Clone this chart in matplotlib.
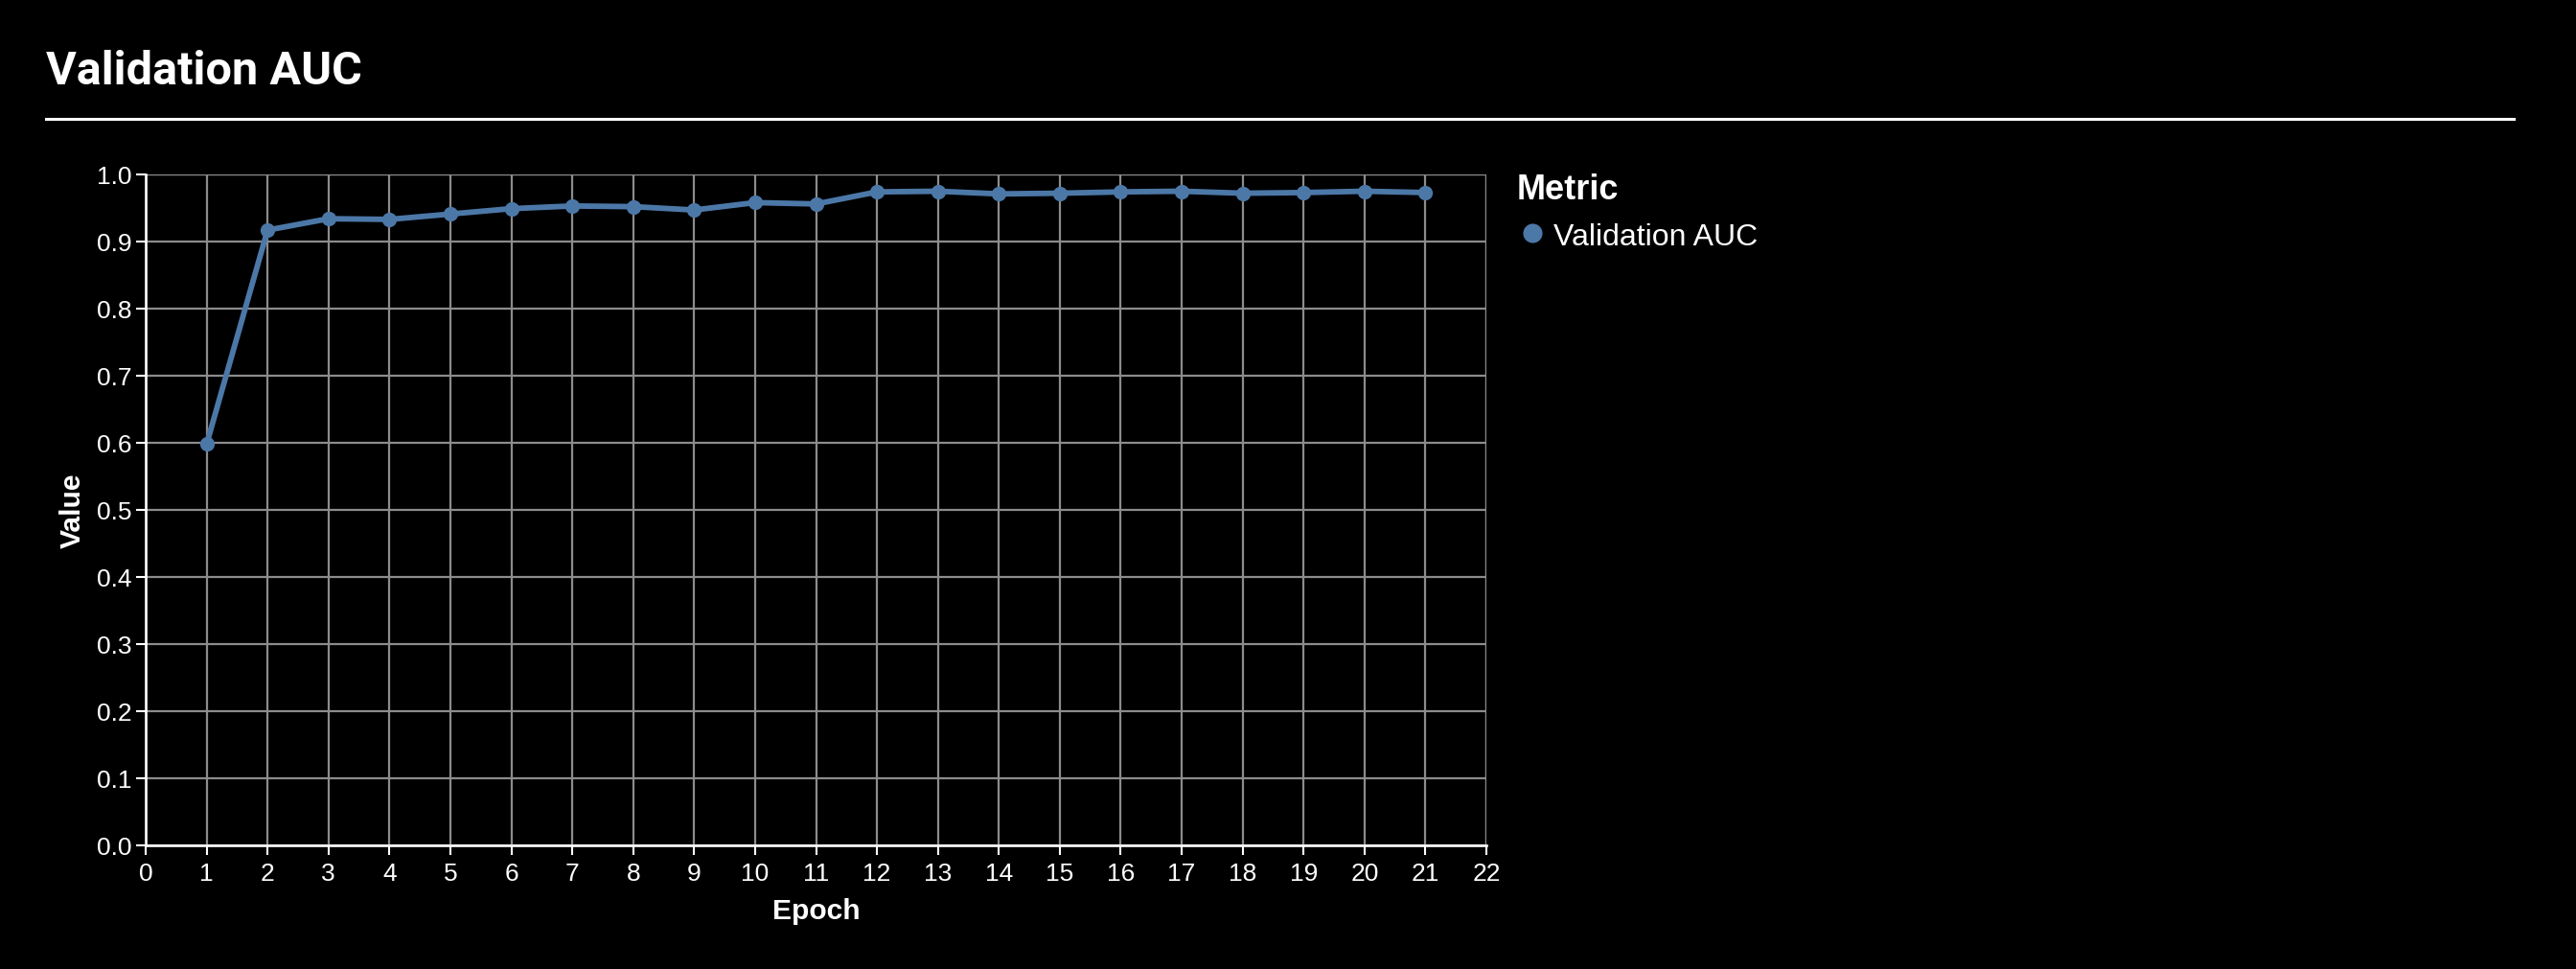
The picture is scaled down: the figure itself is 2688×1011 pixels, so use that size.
# plot.py
# Validation AUC per epoch, dark dashboard style

# Imports --------------------------------------------

import matplotlib
matplotlib.use('Agg')
from matplotlib import pyplot as plt
from matplotlib import font_manager
from matplotlib.lines import Line2D

# Data --------------------------------------------

epochs = [1, 2, 3, 4, 5, 6, 7, 8, 9, 10, 11, 12, 13, 14, 15, 16, 17, 18, 19, 20, 21]
valAuc = [0.598, 0.917, 0.934, 0.933, 0.941, 0.949, 0.953, 0.952, 0.947, 0.958,
          0.956, 0.974, 0.975, 0.971, 0.972, 0.974, 0.975, 0.972, 0.973, 0.975, 0.973]
xTicks = list(range(0, 23))
yTicks = [0.0, 0.1, 0.2, 0.3, 0.4, 0.5, 0.6, 0.7, 0.8, 0.9, 1.0]
yTickLabels = ['0.0', '0.1', '0.2', '0.3', '0.4', '0.5', '0.6', '0.7', '0.8', '0.9', '1.0']

# Presets --------------------------------------------

W, H, DPI = 2688, 1012, 100
lineColor = '#4c78a8'
gridColor = '#8c8c8c'
bgColor = '#000000'
sansFont = ['Liberation Sans', 'DejaVu Sans']

# narrow-ish face for the header
fontNames = {f.name for f in font_manager.fontManager.ttflist}
if 'Liberation Sans Narrow' in fontNames:
    titleFont = ['Liberation Sans Narrow', 'Liberation Sans', 'DejaVu Sans']
    titleSize = 37
elif 'Roboto' in fontNames:
    titleFont = ['Roboto', 'Liberation Sans', 'DejaVu Sans']
    titleSize = 35
else:
    titleFont = sansFont
    titleSize = 34

# Figure --------------------------------------------

fig = plt.figure(figsize=(W / DPI, H / DPI), dpi=DPI, facecolor=bgColor)

# header title and rule
fig.text(48 / W, 1 - 88 / H, 'Validation AUC', family=titleFont, fontweight='bold',
         fontsize=titleSize, color='white', ha='left', va='baseline')
fig.add_artist(Line2D([48 / W, 2623 / W], [1 - 125 / H, 1 - 125 / H],
                      transform=fig.transFigure, color='white', linewidth=2.2))

# axes area
left, right = 152 / W, 1551 / W
bottom, top = 1 - 883 / H, 1 - 183 / H
ax = fig.add_axes([left, bottom, right - left, top - bottom])
ax.set_facecolor('none')

ax.plot(epochs, valAuc, color=lineColor, linewidth=4.2, marker='o',
        markersize=11, markeredgewidth=0, zorder=3, clip_on=False)

ax.set_xlim(0, 22)
ax.set_ylim(0, 1.0)
ax.set_xticks(xTicks)
ax.set_yticks(yTicks)
ax.set_yticklabels(yTickLabels)

ax.grid(True, color=gridColor, linewidth=1.6, zorder=0)
ax.set_axisbelow(True)

for side in ['top', 'right']:
    ax.spines[side].set_visible(False)
for side in ['left', 'bottom']:
    ax.spines[side].set_color('white')
    ax.spines[side].set_linewidth(1.9)
    ax.spines[side].set_zorder(2)

ax.tick_params(axis='both', colors='white', labelcolor='white', length=7,
               width=1.5, labelsize=19)
ax.tick_params(axis='y', pad=3.5)
ax.tick_params(axis='x', pad=5)
for lbl in ax.get_xticklabels() + ax.get_yticklabels():
    lbl.set_family(sansFont)

# right and top grid borders in grid colour
ax.axvline(22, color=gridColor, linewidth=1.6, zorder=0)
ax.axhline(1.0, color=gridColor, linewidth=1.6, zorder=0)

ax.set_xlabel('Epoch', family=sansFont, fontweight='bold', fontsize=21.6, color='white')
ax.set_ylabel('Value', family=sansFont, fontweight='bold', fontsize=21.6, color='white')
ax.xaxis.set_label_coords(0.5, (883 - 959) / 700, transform=ax.transAxes)
ax.xaxis.label.set_va('baseline')
ax.yaxis.set_label_coords((76 - 152) / 1399, 0.5, transform=ax.transAxes)
ax.yaxis.label.set_va('center')

# legend
handle = Line2D([], [], color=lineColor, marker='o', linestyle='none',
                markersize=14.5, markeredgewidth=0)
leg = fig.legend([handle], ['Validation AUC'], loc='upper left',
                 bbox_to_anchor=(1583 / W, 1 - 181 / H), frameon=False,
                 title='Metric', alignment='left', borderpad=0, borderaxespad=0,
                 handlelength=1.0, handletextpad=0.2, labelspacing=0.52,
                 prop={'family': sansFont, 'size': 23})
leg.get_title().set_color('white')
leg.get_title().set_fontweight('bold')
leg.get_title().set_family(sansFont)
leg.get_title().set_fontsize(26)
for txt in leg.get_texts():
    txt.set_color('white')

fig.savefig('out.png', dpi=DPI, facecolor=bgColor)
